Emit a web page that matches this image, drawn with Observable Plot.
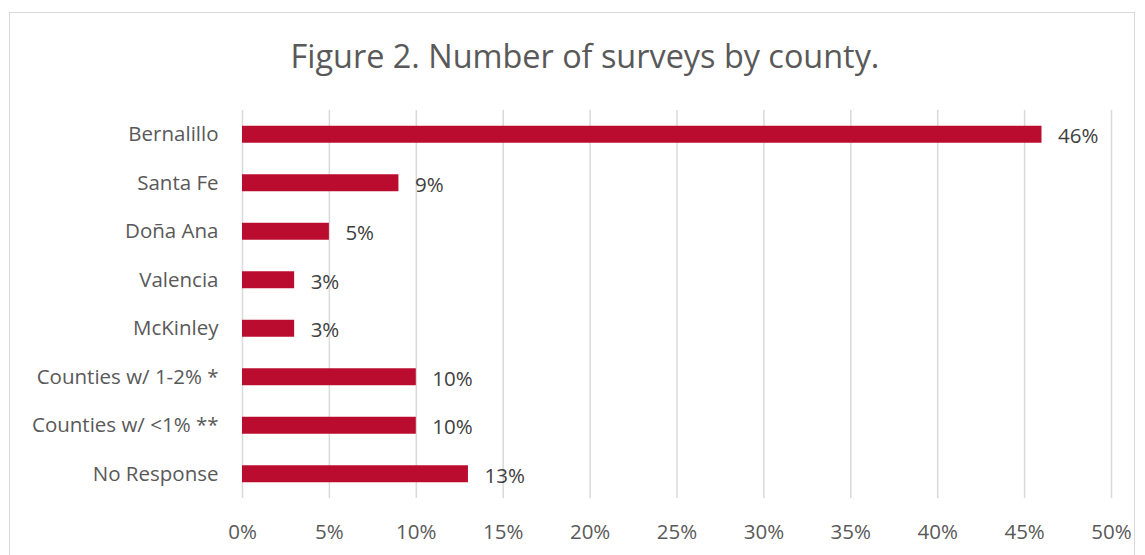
<!DOCTYPE html>
<html>
<head>
<meta charset="utf-8">
<script src="https://cdn.jsdelivr.net/npm/d3@7"></script>
<script src="https://cdn.jsdelivr.net/npm/@observablehq/plot@0.6"></script>
<style>
  html, body { margin: 0; padding: 0; background: #fff; }
  body { width: 1145px; height: 555px; position: relative; overflow: hidden; font-family: "Open Sans", "Noto Sans", sans-serif; }
  #frame { position: absolute; left: 9px; top: 12px; width: 1126px; height: 600px; border: 1px solid #d9d9d9; box-sizing: border-box; }
  #title { position: absolute; left: 0; top: 33px; width: 1170px; text-align: center; font-size: 32.4px; color: #595959; line-height: 44px; }
  #chart { position: absolute; left: 0; top: 100px; }
</style>
</head>
<body>
<div id="frame"></div>
<div id="title">Figure 2. Number of surveys by county.</div>
<div id="chart"></div>
<script>
const categories = ["Bernalillo", "Santa Fe", "Doña Ana", "Valencia", "McKinley", "Counties w/ 1-2% *", "Counties w/ <1% **", "No Response"];
const values = [46, 9, 5, 3, 3, 10, 10, 13];
const xTicks = [0, 5, 10, 15, 20, 25, 30, 35, 40, 45, 50];

const data = categories.map((c, i) => ({category: c, value: values[i]}));

const plot = Plot.plot({
  width: 1145,
  height: 455,
  marginLeft: 242,
  marginRight: 34,
  marginTop: 10,
  marginBottom: 57,
  style: {fontFamily: "'Open Sans', 'Noto Sans', sans-serif", fontSize: "20px", color: "#595959", background: "transparent"},
  x: {domain: [0, 50], ticks: xTicks, label: null},
  y: {domain: categories, paddingInner: 0.65, paddingOuter: 0.325, align: 0.5, round: false, label: null},
  marks: [
    Plot.gridX(xTicks, {stroke: "#d9d9d9", strokeOpacity: 1, strokeWidth: 1.5}),
    Plot.barX(data, {x: "value", y: "category", fill: "#ba0c2f"}),
    Plot.text(data, {x: "value", y: "category", text: d => d.value + "%", textAnchor: "start", dx: 16, dy: 2, fill: "#404040", fontSize: 20.5}),
    Plot.axisX({ticks: xTicks, tickSize: 0, tickPadding: 26, tickFormat: d => d + "%", fontSize: 20.5, fill: "#595959", label: null}),
    Plot.axisY({tickSize: 0, tickPadding: 24, fontSize: 20.5, fill: "#595959", label: null})
  ]
});
document.getElementById("chart").appendChild(plot);
</script>
</body>
</html>
